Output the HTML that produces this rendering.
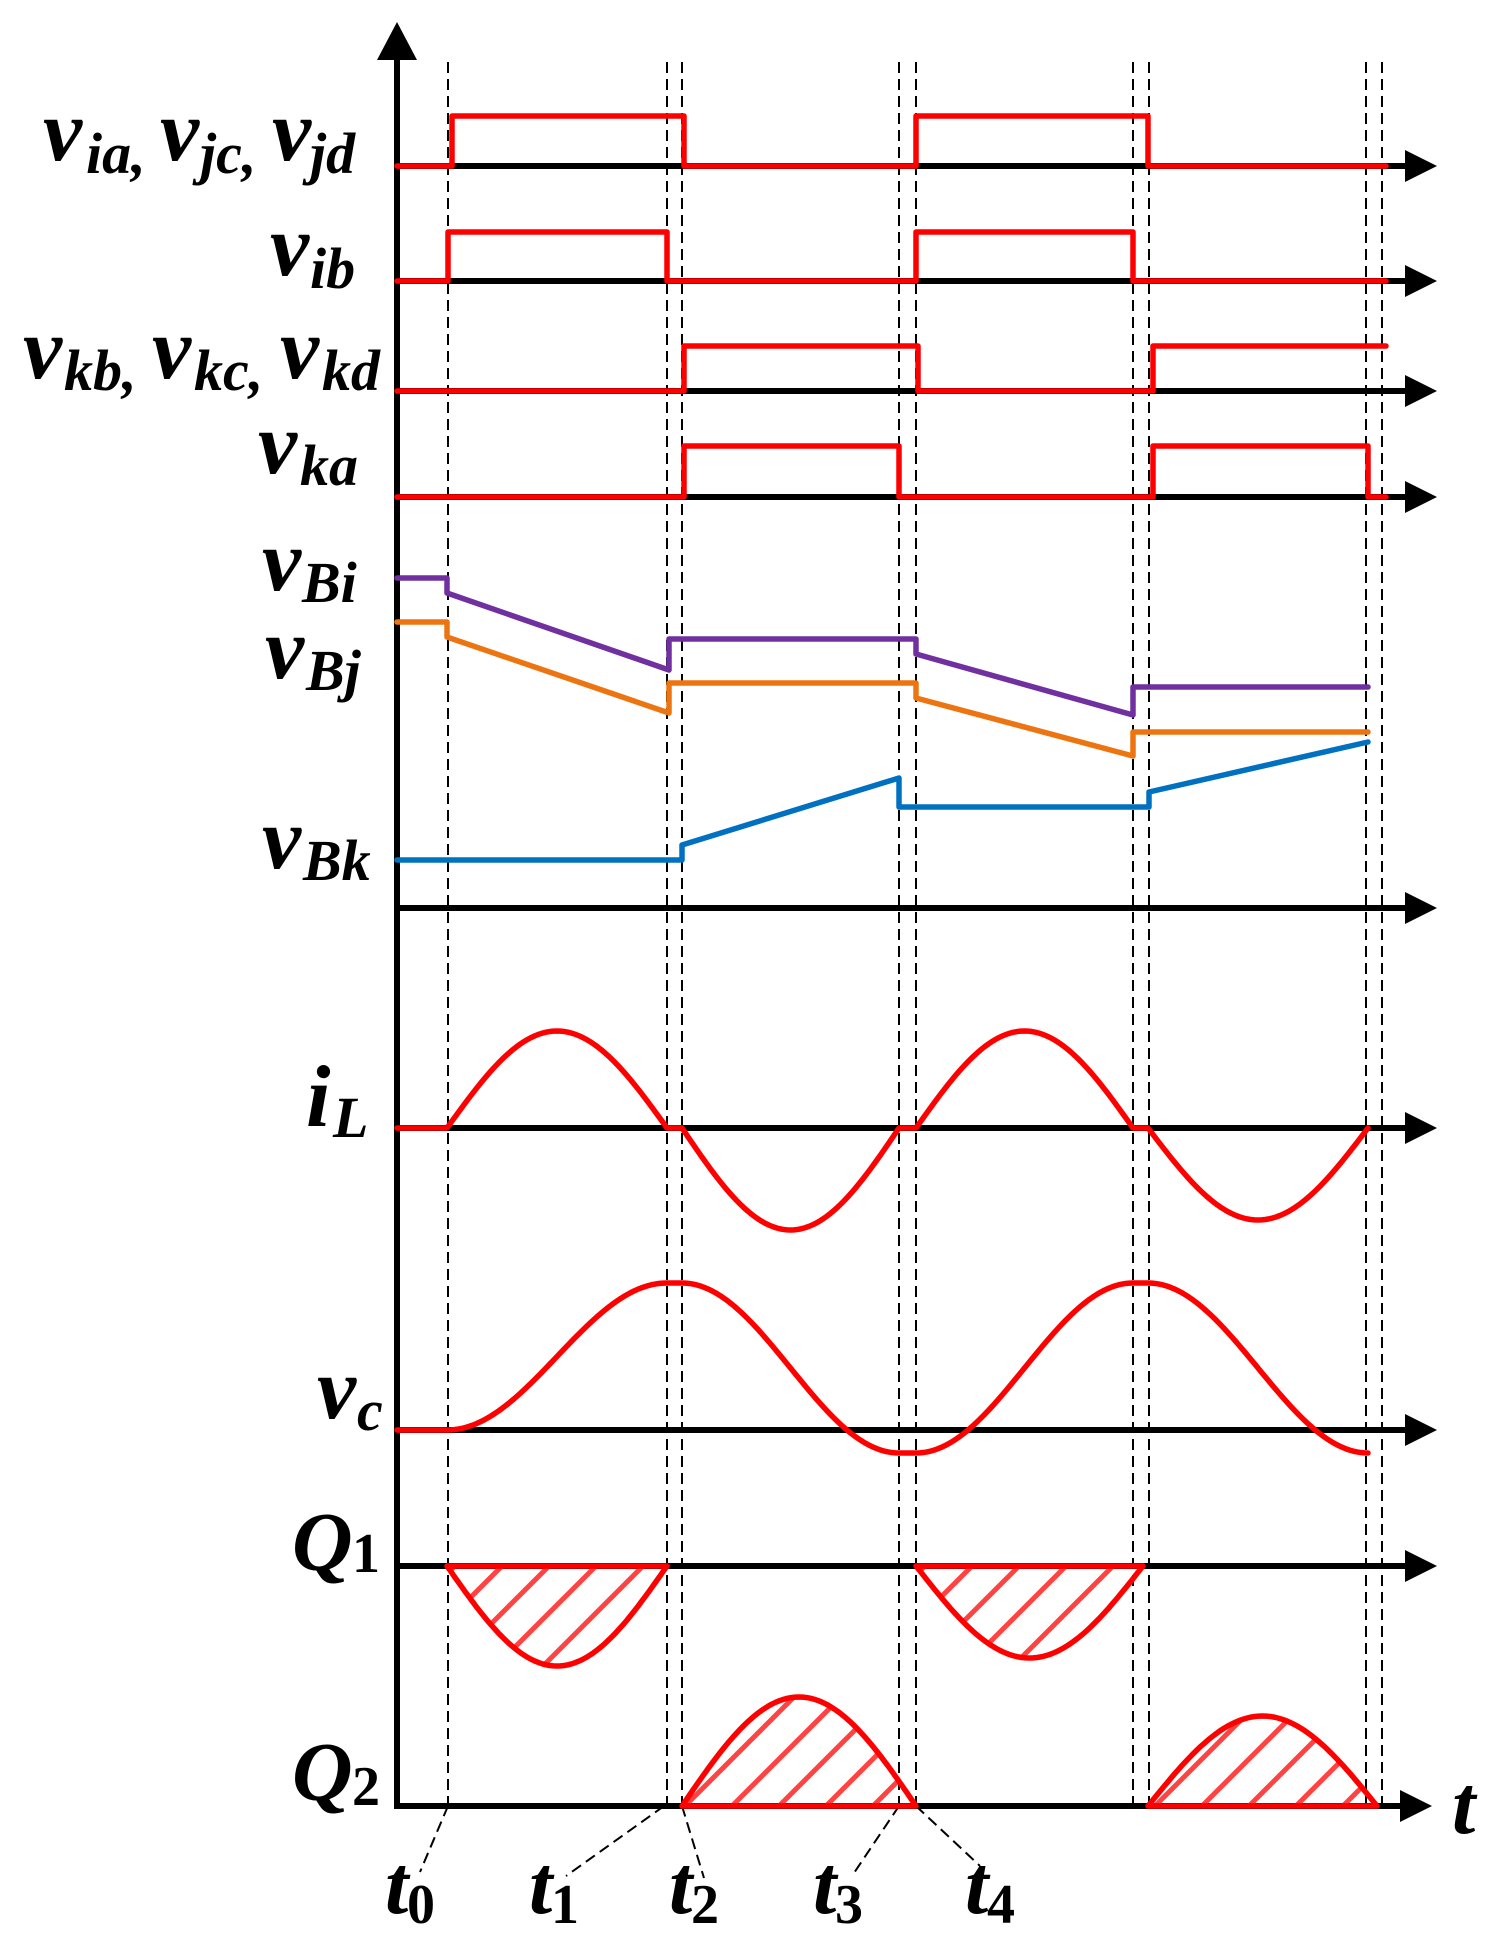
<!DOCTYPE html>
<html><head><meta charset="utf-8"><style>
html,body{margin:0;padding:0;background:#fff;}
svg{display:block;}
.l{font-family:"Liberation Serif",serif;font-weight:bold;font-style:italic;fill:#000;}
.m{font-size:88px;}
.s{font-size:58px;}
.d{font-family:"Liberation Serif",serif;font-weight:bold;font-style:normal;font-size:56px;}
</style></head><body>
<svg id="g" width="1509" height="1948" viewBox="0 0 1509 1948" xmlns="http://www.w3.org/2000/svg">
<defs>
<pattern id="h" patternUnits="userSpaceOnUse" width="47" height="47">
<path d="M-5,52 L52,-5 M-5,5 L5,-5 M42,52 L52,42" stroke="#ff2020" stroke-width="5" opacity="0.85"/>
</pattern>
</defs>
<g id="dash" stroke="#000" stroke-width="2" stroke-dasharray="11,6" fill="none">
<line x1="448" y1="62" x2="448" y2="1806"/>
<line x1="667" y1="62" x2="667" y2="1806"/>
<line x1="682" y1="62" x2="682" y2="1806"/>
<line x1="899" y1="62" x2="899" y2="1806"/>
<line x1="916" y1="62" x2="916" y2="1806"/>
<line x1="1133" y1="62" x2="1133" y2="1806"/>
<line x1="1149" y1="62" x2="1149" y2="1806"/>
<line x1="1366" y1="62" x2="1366" y2="1806"/>
<line x1="1382" y1="62" x2="1382" y2="1806"/>
<line x1="448" y1="1806" x2="420" y2="1872"/>
<line x1="664" y1="1806" x2="566" y2="1876"/>
<line x1="682" y1="1806" x2="704" y2="1878"/>
<line x1="899" y1="1806" x2="852" y2="1876"/>
<line x1="916" y1="1806" x2="980" y2="1866"/>
</g>
<g id="axes" stroke="#000" stroke-width="6" fill="none"></g>
<g id="arrows" fill="#000"></g>
<g id="curves" fill="none" stroke-width="5.5" stroke-linejoin="round" stroke-linecap="round"></g>

<g class="l">
<text class="m" x="43" y="160">v</text><text class="s" x="86" y="173">ia,</text>
<text class="m" x="160" y="160">v</text><text class="s" x="200" y="173">jc,</text>
<text class="m" x="272" y="160">v</text><text class="s" x="310" y="173">jd</text>

<text class="m" x="270" y="275">v</text><text class="s" x="310" y="288">ib</text>

<text class="m" x="23" y="378">v</text><text class="s" x="64" y="390">kb,</text>
<text class="m" x="152" y="378">v</text><text class="s" x="194" y="390">kc,</text>
<text class="m" x="280" y="378">v</text><text class="s" x="322" y="390">kd</text>

<text class="m" x="258" y="473">v</text><text class="s" x="300" y="485">ka</text>

<text class="m" x="262" y="590">v</text><text class="s" x="302" y="602">Bi</text>
<text class="m" x="265" y="678">v</text><text class="s" x="306" y="690">Bj</text>
<text class="m" x="262" y="868">v</text><text class="s" x="303" y="880">Bk</text>

<text class="m" x="306" y="1126">i</text><text class="s" x="333" y="1137">L</text>
<text class="m" x="317" y="1418">v</text><text class="s" x="357" y="1430">c</text>

<text style="font-size:84px" x="292" y="1570">Q</text><text class="d" x="352" y="1572">1</text>
<text style="font-size:84px" x="292" y="1800">Q</text><text class="d" x="352" y="1805">2</text>

<text style="font-size:84px" x="1452" y="1833">t</text>

<text style="font-size:84px" x="385" y="1913">t</text><text class="d" x="407" y="1923">0</text>
<text style="font-size:84px" x="529" y="1913">t</text><text class="d" x="551" y="1923">1</text>
<text style="font-size:84px" x="669" y="1913">t</text><text class="d" x="691" y="1923">2</text>
<text style="font-size:84px" x="813" y="1913">t</text><text class="d" x="835" y="1923">3</text>
<text style="font-size:84px" x="965" y="1913">t</text><text class="d" x="987" y="1923">4</text>
</g>
</svg>
<script>
var NS="http://www.w3.org/2000/svg";
function el(parent,tag,attrs){var e=document.createElementNS(NS,tag);for(var k in attrs)e.setAttribute(k,attrs[k]);document.getElementById(parent).appendChild(e);return e;}
el("axes","line",{x1:397,y1:55,x2:397,y2:1809});
el("arrows","polygon",{points:"377,60 417,60 397,22"});
[[166,1437],[281,1437],[391,1437],[497,1437],[908,1437],[1128,1437],[1430,1437],[1566,1437],[1806,1432]].forEach(function(a){
 el("axes","line",{x1:394,y1:a[0],x2:a[1]-30,y2:a[0]});
 el("arrows","polygon",{points:(a[1]-32)+","+(a[0]-16)+" "+(a[1]-32)+","+(a[0]+16)+" "+a[1]+","+a[0]});
});
function poly(pts,color){el("curves","polyline",{points:pts.map(function(p){return p[0]+","+p[1]}).join(" "),stroke:color});}
var R="#ff0000";
poly([[397,166],[452,166],[452,116],[684,116],[684,166],[916,166],[916,116],[1148,116],[1148,166],[1386,166]],R);
poly([[397,281],[448,281],[448,232],[667,232],[667,281],[916,281],[916,232],[1133,232],[1133,281],[1386,281]],R);
poly([[397,391],[684,391],[684,346],[918,346],[918,391],[1153,391],[1153,346],[1386,346]],R);
poly([[397,497],[684,497],[684,446],[899,446],[899,497],[1153,497],[1153,446],[1368,446],[1368,497],[1386,497]],R);
poly([[397,578],[447,578],[447,593],[669,670],[669,639],[916,639],[916,654],[1133,715],[1133,687],[1368,687]],"#7030a0");
poly([[397,622],[447,622],[447,637],[669,713],[669,683],[916,683],[916,698],[1133,756],[1133,732],[1368,732]],"#ed7511");
poly([[397,860],[682,860],[682,845],[899,778],[899,807],[1149,807],[1149,792],[1368,742]],"#0070c0");
function hump(x0,x1,y0,amp,n){var p=[];n=n||60;for(var i=0;i<=n;i++){var t=i/n;p.push([x0+(x1-x0)*t,y0-amp*Math.sin(Math.PI*t)]);}return p;}
function sig(x0,x1,ya,yb,n){var p=[];n=n||60;for(var i=0;i<=n;i++){var t=i/n;p.push([x0+(x1-x0)*t,ya+(yb-ya)*(1-Math.cos(Math.PI*t))/2]);}return p;}
var il=[[397,1128]].concat(hump(447,667,1128,97),[[682,1128]],hump(682,899,1128,-102),[[916,1128]],hump(916,1133,1128,97),[[1148,1128]],hump(1148,1368,1128,-92));
poly(il,R);
var vc=[[397,1430]].concat(sig(447,667,1430,1283),[[682,1283]],sig(682,899,1283,1453),[[916,1453]],sig(916,1133,1453,1283),[[1148,1283]],sig(1148,1368,1283,1453));
poly(vc,R);
function qh(x0,x1,y0,amp){var p=hump(x0,x1,y0,amp);var d="M"+p.map(function(q){return q[0].toFixed(1)+","+q[1].toFixed(1)}).join(" L")+" Z";
 el("curves","path",{d:d,fill:"url(#h)",stroke:R});}
qh(447,667,1566,-100);
qh(916,1143,1566,-92);
qh(682,916,1806,109);
qh(1148,1377,1806,90);
</script>
</body></html>
